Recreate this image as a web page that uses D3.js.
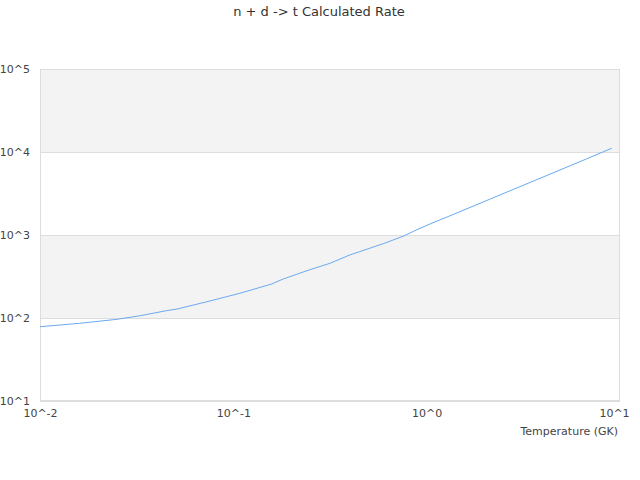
<!DOCTYPE html>
<html>
<head>
<meta charset="utf-8">
<script src="https://cdn.jsdelivr.net/npm/d3@7"></script>
<style>
  html, body { margin: 0; padding: 0; background: #fff; }
  svg { display: block; font-family: "DejaVu Sans", sans-serif; }
</style>
</head>
<body>
<svg id="chart" width="640" height="480"></svg>
<script>
const chartTitle = "n + d -> t Calculated Rate";
const xAxisTitle = "Temperature (GK)";
const temperatures = [0.01, 0.016, 0.025, 0.033, 0.045, 0.051, 0.073, 0.108, 0.115, 0.158, 0.181, 0.24, 0.316, 0.40, 0.45, 0.60, 0.755, 0.924, 1.04, 1.37, 2.05, 3.04, 4.5, 6.74, 9.06];
const rates = [78.5, 86.3, 96.4, 106.6, 122.4, 128, 157, 198.5, 207, 257, 295, 371, 456, 574, 630, 790, 965, 1205, 1358, 1766, 2612, 3828, 5596, 8299, 11090];
const xTicks = [0.01, 0.1, 1, 10];
const xTickLabels = ["10^-2", "10^-1", "10^0", "10^1"];
const yTicks = [10, 100, 1000, 10000, 100000];
const yTickLabels = ["10^1", "10^2", "10^3", "10^4", "10^5"];
const bands = [[100, 1000], [10000, 100000]];

const svg = d3.select("#chart");
const L = 40, R = 620, T = 69, B = 401;
const x = d3.scaleLog().domain([0.01, 10]).range([L, R]);
const y = d3.scaleLog().domain([10, 100000]).range([B, T]);

svg.append("text").attr("x", 319).attr("y", 16).attr("text-anchor", "middle")
  .attr("font-size", 13).attr("fill", "#333").text(chartTitle);

// bands
svg.append("g").selectAll("rect").data(bands).join("rect")
  .attr("x", L).attr("width", R - L)
  .attr("y", d => y(d[1])).attr("height", d => y(d[0]) - y(d[1]))
  .attr("fill", "#f3f3f3");

// gridlines
svg.append("g").selectAll("line").data(yTicks).join("line")
  .attr("x1", L).attr("x2", R)
  .attr("y1", d => Math.round(y(d)) + 0.5).attr("y2", d => Math.round(y(d)) + 0.5)
  .attr("stroke", "#dddddd");

// border
svg.append("rect").attr("x", L + 0.5).attr("y", T + 0.5)
  .attr("width", R - L - 1).attr("height", B - T - 1)
  .attr("fill", "none").attr("stroke", "#dddddd");

// y axis labels
const yAxis = d3.axisLeft(y).tickValues(yTicks)
  .tickFormat((d, i) => yTickLabels[i]).tickSize(0).tickPadding(10);
const gy = svg.append("g").attr("transform", `translate(${L},0)`).call(yAxis);
gy.select(".domain").remove();
gy.selectAll("text").attr("font-size", 11).attr("fill", "#444")
  .attr("font-family", "DejaVu Sans, sans-serif");

// x axis labels
const xAxis = d3.axisBottom(x).tickValues(xTicks)
  .tickFormat((d, i) => xTickLabels[i]).tickSize(0).tickPadding(8);
const gx = svg.append("g").attr("transform", `translate(0,${B})`).call(xAxis);
gx.select(".domain").remove();
gx.selectAll("text").attr("font-size", 11).attr("fill", "#444")
  .attr("font-family", "DejaVu Sans, sans-serif")
  .attr("dx", (d, i) => i === xTicks.length - 1 ? -6 : 0);

svg.append("text").attr("x", 618).attr("y", 435).attr("text-anchor", "end")
  .attr("font-size", 11).attr("fill", "#444").text(xAxisTitle);

// line
const line = d3.line().x((d, i) => x(temperatures[i])).y(d => y(d));
svg.append("path").datum(rates).attr("d", line)
  .attr("fill", "none").attr("stroke", "#6aaaf0").attr("stroke-width", 1);
</script>
</body>
</html>
